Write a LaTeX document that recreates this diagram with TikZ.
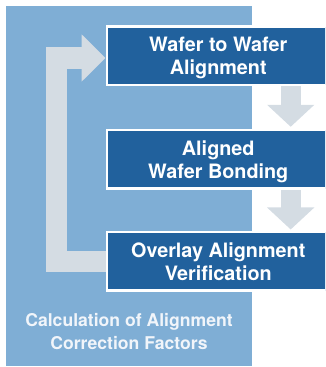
\documentclass[tikz,border=0pt]{standalone}
\usepackage{fontspec}
\setmainfont{TeX Gyre Heros}
\usetikzlibrary{arrows.meta}

\definecolor{panelblue}{HTML}{7FAED5}
\definecolor{stepblue}{HTML}{21619D}
\definecolor{flowgray}{HTML}{D4DCE3}
\definecolor{notewhite}{HTML}{F1F5FA}

\tikzset{
  stepbox/.style={fill=stepblue, draw=white, line width=2.5pt,
    minimum width=223pt, minimum height=58.5pt, inner sep=0pt,
    align=center, text=white, text depth=0pt,
    font=\fontsize{19.8}{23}\selectfont\bfseries},
  downflow/.style={draw=flowgray, line width=20pt,
    -{Triangle[width=46pt,length=22pt]}},
  loopflow/.style={draw=flowgray, line width=21.5pt, line join=miter,
    -{Triangle[width=46pt,length=24pt]}},
  note/.style={align=center, text=notewhite, text depth=0pt,
    font=\fontsize{17.6}{23.3}\selectfont\bfseries}
}

\begin{document}
\begin{tikzpicture}[x=1pt,y=1pt]
  \clip (0,0) rectangle (325,367);

  % light panel behind the loop
  \fill[panelblue] (6,1) rectangle (252,361);

  % process steps
  \node[stepbox] (b1) at (218.25,311) {Wafer to Wafer\\Alignment};
  \node[stepbox] (b2) at (218.25,207.5) {Aligned\\Wafer Bonding};
  \node[stepbox] (b3) at (218.25,105.5) {Overlay Alignment\\Verification};

  % forward flow between steps
  \draw[downflow] ([xshift=72.45pt]b1.south) -- ([xshift=72.45pt,yshift=2.2pt]b2.north);
  \draw[downflow] ([xshift=72.45pt]b2.south) -- ([xshift=72.45pt,yshift=1.5pt]b3.north);

  % correction feedback loop
  \draw[loopflow] (b3.west) -- ++(-48.85,0) |- ([yshift=-2pt]b1.west);

  % panel caption
  \node[note] (cap) at (129,35.6) {Calculation of Alignment\\Correction Factors};
\end{tikzpicture}
\end{document}
